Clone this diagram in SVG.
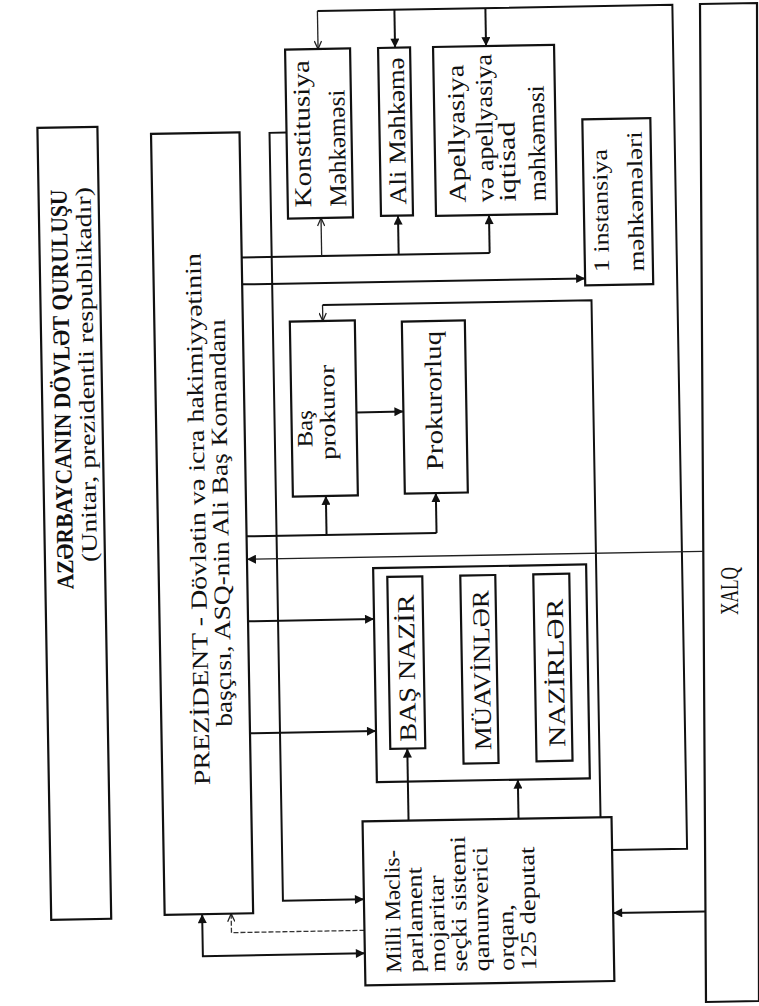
<svg xmlns="http://www.w3.org/2000/svg" width="759" height="1006" viewBox="0 0 759 1006">
<defs>
<style>
.bx{fill:none;stroke:#111;stroke-width:2.2}
.ln{fill:none;stroke:#111;stroke-width:2}
.lt{fill:none;stroke:#222;stroke-width:1.3}
.ld{fill:none;stroke:#333;stroke-width:1.3;stroke-dasharray:5 2}
text{font-family:"Liberation Serif","Times New Roman",serif;fill:#111}
.f26{font-size:26px}
.f24{font-size:24px}
.f23{font-size:23px}
.f22{font-size:22px}
.tb{font-size:24px;font-weight:bold}
</style>
<marker id="ah" viewBox="0 0 10 10" refX="10" refY="5" markerWidth="11" markerHeight="9" orient="auto-start-reverse" markerUnits="userSpaceOnUse"><path d="M0,0 L10,5 L0,10 z" fill="#111"/></marker>
<marker id="ao" viewBox="0 0 10 10" refX="10" refY="5" markerWidth="10" markerHeight="8" orient="auto" markerUnits="userSpaceOnUse"><path d="M0,0.5 L10,5 L0,9.5" fill="none" stroke="#222" stroke-width="1.6"/></marker>
</defs>
<rect width="759" height="1006" fill="#fff"/>
<g id="xalq">
<path class="bx" d="M700,4 L757,3 L759,1001 L706,1002 Z"/>
<text class="f26" transform="translate(738,615) rotate(-90)" textLength="48" lengthAdjust="spacingAndGlyphs">XALQ</text>
</g>
<g transform="rotate(-1 380 503)">
<g id="connectors">
<path class="ln" d="M606,854 H681 V10 H326"/>
<path class="lt" d="M326,10 V48" marker-end="url(#ao)"/>
<path class="ln" d="M403,10 V48" marker-end="url(#ah)"/>
<path class="ln" d="M494,10 V48" marker-end="url(#ah)"/>
<path class="ln" d="M246,255 H494"/>
<path class="lt" d="M326,255 V217" marker-end="url(#ao)"/>
<path class="ln" d="M403,255 V216" marker-end="url(#ah)"/>
<path class="ln" d="M494,255 V217" marker-end="url(#ah)"/>
<path class="ln" d="M246,282 H589" marker-end="url(#ah)"/>
<path class="ln" d="M293,131 H276 V899 H357" marker-end="url(#ah)"/>
<path class="ln" d="M595,821 V304 H326"/>
<path class="lt" d="M326,304 V320" marker-end="url(#ao)"/>
<path class="ln" d="M358,412 H405" marker-end="url(#ah)"/>
<path class="ln" d="M246,534 H436"/>
<path class="ln" d="M326,534 V495" marker-end="url(#ah)"/>
<path class="ln" d="M436,534 V494" marker-end="url(#ah)"/>
<path class="lt" d="M702,557 H246" marker-end="url(#ah)"/>
<path class="ln" d="M246,619 H372" marker-end="url(#ah)"/>
<path class="ln" d="M246,731 H372" marker-end="url(#ah)"/>
<path class="ln" d="M403,821 V749" marker-end="url(#ah)"/>
<path class="ln" d="M513,821 V782" marker-end="url(#ah)"/>
<path class="ln" d="M698,917 H606" marker-end="url(#ah)"/>
<path class="ln" d="M195,911 V953 H357" marker-start="url(#ah)" marker-end="url(#ah)"/>
<path class="ld" d="M357,930 H224 V911" marker-end="url(#ao)"/>
</g>
<g id="title">
<rect class="bx" x="44" y="122" width="60" height="792"/>
<text class="tb" transform="translate(72,584) rotate(-90)" textLength="400" lengthAdjust="spacingAndGlyphs">AZƏRBAYCANIN DÖVLƏT QURULUŞU</text>
<text class="f22" transform="translate(96,557) rotate(-90)" textLength="375" lengthAdjust="spacingAndGlyphs">(Unitar, prezidentli respublikadır)</text>
</g>
<g id="prezident">
<rect class="bx" x="157.5" y="130" width="88.5" height="781"/>
<text class="f23" transform="translate(205,782) rotate(-90)" textLength="532" lengthAdjust="spacingAndGlyphs">PREZİDENT - Dövlətin və icra hakimiyyətinin</text>
<text class="f23" transform="translate(228,724) rotate(-90)" textLength="408" lengthAdjust="spacingAndGlyphs">başçısı, ASQ-nin Ali Baş Komandanı</text>
</g>
<g id="konstitusiya">
<rect class="bx" x="293" y="48" width="65" height="169"/>
<text class="f24" transform="translate(316.5,206) rotate(-90)" textLength="147" lengthAdjust="spacingAndGlyphs">Konstitusiya</text>
<text class="f24" transform="translate(351.5,206) rotate(-90)" textLength="117" lengthAdjust="spacingAndGlyphs">Məhkəməsi</text>
</g>
<g id="ali">
<rect class="bx" x="386" y="48" width="32" height="168"/>
<text class="f24" transform="translate(411.5,205) rotate(-90)" textLength="147" lengthAdjust="spacingAndGlyphs">Ali Məhkəmə</text>
</g>
<g id="apellyasiya">
<rect class="bx" x="441" y="48" width="121" height="169"/>
<text class="f24" transform="translate(471,204) rotate(-90)" textLength="138" lengthAdjust="spacingAndGlyphs">Apellyasiya</text>
<text class="f24" transform="translate(499,204) rotate(-90)" textLength="148" lengthAdjust="spacingAndGlyphs">və apellyasiya</text>
<text class="f24" transform="translate(521,204) rotate(-90)" textLength="80" lengthAdjust="spacingAndGlyphs">iqtisad</text>
<text class="f24" transform="translate(551,204) rotate(-90)" textLength="116" lengthAdjust="spacingAndGlyphs">məhkəməsi</text>
</g>
<g id="instansiya">
<rect class="bx" x="589" y="123" width="68" height="166"/>
<text class="f22" transform="translate(613,276) rotate(-90)" textLength="123" lengthAdjust="spacingAndGlyphs">1 instansiya</text>
<text class="f22" transform="translate(648,276) rotate(-90)" textLength="140" lengthAdjust="spacingAndGlyphs">məhkəmələri</text>
</g>
<g id="basprokuror">
<rect class="bx" x="293" y="320" width="65" height="175"/>
<text class="f22" transform="translate(313.4,446) rotate(-90)" textLength="37" lengthAdjust="spacingAndGlyphs">Baş</text>
<text class="f22" transform="translate(336.4,459) rotate(-90)" textLength="95" lengthAdjust="spacingAndGlyphs">prokuror</text>
</g>
<g id="prokurorluq">
<rect class="bx" x="405" y="322" width="63" height="172"/>
<text class="f24" transform="translate(443.5,471) rotate(-90)" textLength="139" lengthAdjust="spacingAndGlyphs">Prokurorluq</text>
</g>
<g id="nazirler-kabineti">
<rect class="bx" x="372" y="568" width="213" height="214"/>
</g>
<g id="basnazir">
<rect class="bx" x="386" y="577" width="35" height="172"/>
<text class="f24" transform="translate(412,742) rotate(-90)" textLength="147" lengthAdjust="spacingAndGlyphs">BAŞ NAZİR</text>
</g>
<g id="muavinler">
<rect class="bx" x="459" y="577" width="35" height="188"/>
<text class="f24" transform="translate(487,752) rotate(-90)" textLength="160" lengthAdjust="spacingAndGlyphs">MÜAVİNLƏR</text>
</g>
<g id="nazirler">
<rect class="bx" x="532" y="577" width="36" height="187"/>
<text class="f24" transform="translate(561,750) rotate(-90)" textLength="148" lengthAdjust="spacingAndGlyphs">NAZİRLƏR</text>
</g>
<g id="milli-meclis">
<rect class="bx" x="357" y="821" width="249" height="164"/>
<text class="f22" transform="translate(393,973) rotate(-90)" textLength="123" lengthAdjust="spacingAndGlyphs">Milli Məclis-</text>
<text class="f22" transform="translate(415,973) rotate(-90) scale(1.2,1)">parlament</text>
<text class="f22" transform="translate(437,973) rotate(-90) scale(1.2,1)">mojaritar</text>
<text class="f22" transform="translate(459,973) rotate(-90) scale(1.2,1)">seçki sistemi</text>
<text class="f22" transform="translate(481,973) rotate(-90) scale(1.2,1)">qanunverici</text>
<text class="f22" transform="translate(506,973) rotate(-90) scale(1.2,1)">orqan,</text>
<text class="f22" transform="translate(528,973) rotate(-90) scale(1.2,1)">125 deputat</text>
</g>
</g>
</svg>
